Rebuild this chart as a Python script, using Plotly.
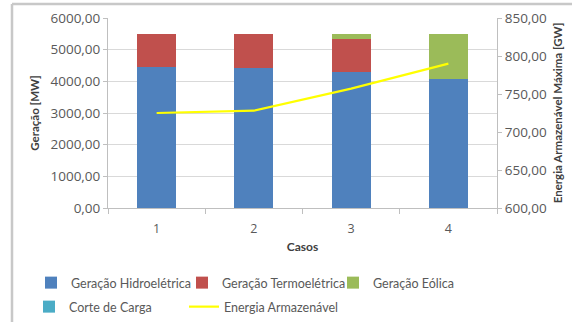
import plotly.graph_objects as go

# Casos simulados e resultados de geração (MW) e energia armazenável (GW)
casos = ["1", "2", "3", "4"]
geracao_hidro = [4450, 4420, 4310, 4080]
geracao_termo = [1050, 1080, 1040, 0]
geracao_eolica = [0, 0, 150, 1420]
corte_carga = [0, 0, 0, 0]
energia_armazenavel = [725, 728, 757, 790]

FONT = "Lato"
NUM_FONT = "Open Sans"
TXT = "#595959"
TITLE = "#404040"
W, H = 572, 322
L, R, T, B = 108, 75, 18, 114
PW, PH = W - L - R, H - T - B


def px_x(px):
    """Converte pixel horizontal em coordenada 'paper'."""
    return (px - L) / PW


def px_y(py):
    """Converte pixel vertical (a partir do topo) em coordenada 'paper'."""
    return (H - B - py) / PH


fig = go.Figure()

fig.add_trace(go.Bar(x=casos, y=geracao_hidro, name="Geração Hidroelétrica",
                     marker_color="#4F81BD", legend="legend"))
fig.add_trace(go.Bar(x=casos, y=geracao_termo, name="Geração Termoelétrica",
                     marker_color="#C0504D", legend="legend"))
fig.add_trace(go.Bar(x=casos, y=geracao_eolica, name="Geração Eólica",
                     marker_color="#9BBB59", legend="legend"))
fig.add_trace(go.Bar(x=casos, y=corte_carga, name="Corte de Carga",
                     marker_color="#4BACC6", legend="legend2"))
fig.add_trace(go.Scatter(x=casos, y=energia_armazenavel, name="Energia Armazenável",
                         mode="lines", line=dict(color="#FFFF00", width=2.2),
                         yaxis="y2", legend="legend2"))

for t in fig.data:
    if t.type == "bar":
        t.marker.line.width = 0

legend_common = dict(
    orientation="h", xref="paper", yref="paper",
    xanchor="left", yanchor="middle",
    font=dict(family=FONT, size=12.5, color=TXT),
    itemwidth=30, entrywidthmode="pixels",
    bgcolor="rgba(0,0,0,0)", traceorder="normal",
)

fig.update_layout(
    width=W, height=H,
    margin=dict(l=L, r=R, t=T, b=B, autoexpand=False),
    paper_bgcolor="white", plot_bgcolor="white",
    barmode="stack", bargap=0.6,
    separators=",.",
    font=dict(family=FONT, color=TXT),
    xaxis=dict(
        type="category", tickson="boundaries",
        showline=True, linecolor="#BFBFBF", linewidth=1,
        ticks="outside", ticklen=5, tickcolor="#BFBFBF",
        ticklabelstandoff=9,
        tickfont=dict(family=NUM_FONT, size=12.5, color=TXT),
        title=dict(text="<b>Casos</b>", standoff=6,
                   font=dict(family=FONT, size=12, color=TITLE)),
        showgrid=False,
    ),
    yaxis=dict(
        range=[0, 6000], dtick=1000, tickformat=".2f",
        showline=True, linecolor="#BFBFBF", linewidth=1,
        ticks="outside", ticklen=4, tickcolor="#BFBFBF",
        gridcolor="#D9D9D9", gridwidth=1, zeroline=False,
        tickfont=dict(family=NUM_FONT, size=13.5, color=TXT),
        title=dict(text="<b>Geração [MW]</b>", standoff=8,
                   font=dict(family=FONT, size=11.5, color=TITLE)),
    ),
    yaxis2=dict(
        overlaying="y", side="right",
        range=[600, 850], dtick=50, tickformat=".2f",
        showline=True, linecolor="#BFBFBF", linewidth=1,
        ticks="outside", ticklen=4, tickcolor="#BFBFBF",
        showgrid=False, zeroline=False,
        tickfont=dict(family=NUM_FONT, size=13.5, color=TXT),
        title=dict(text="<b>Energia Armazenável Máxima [GW]</b>", standoff=7,
                   font=dict(family=FONT, size=11.5, color=TITLE)),
    ),
    legend=dict(x=px_x(31), y=px_y(283), entrywidth=106, **legend_common),
    legend2=dict(x=px_x(29), y=px_y(307), entrywidth=110, **legend_common),
    shapes=[
        # moldura do gráfico (bordas esquerda e superior)
        dict(type="line", xref="paper", yref="paper",
             x0=px_x(12), x1=px_x(12), y0=px_y(322), y1=px_y(4),
             line=dict(color="#C8C8C8", width=2.5)),
        dict(type="line", xref="paper", yref="paper",
             x0=px_x(12), x1=px_x(572), y0=px_y(4), y1=px_y(4),
             line=dict(color="#C8C8C8", width=2.5)),
    ],
)

fig.write_html("out.html")
